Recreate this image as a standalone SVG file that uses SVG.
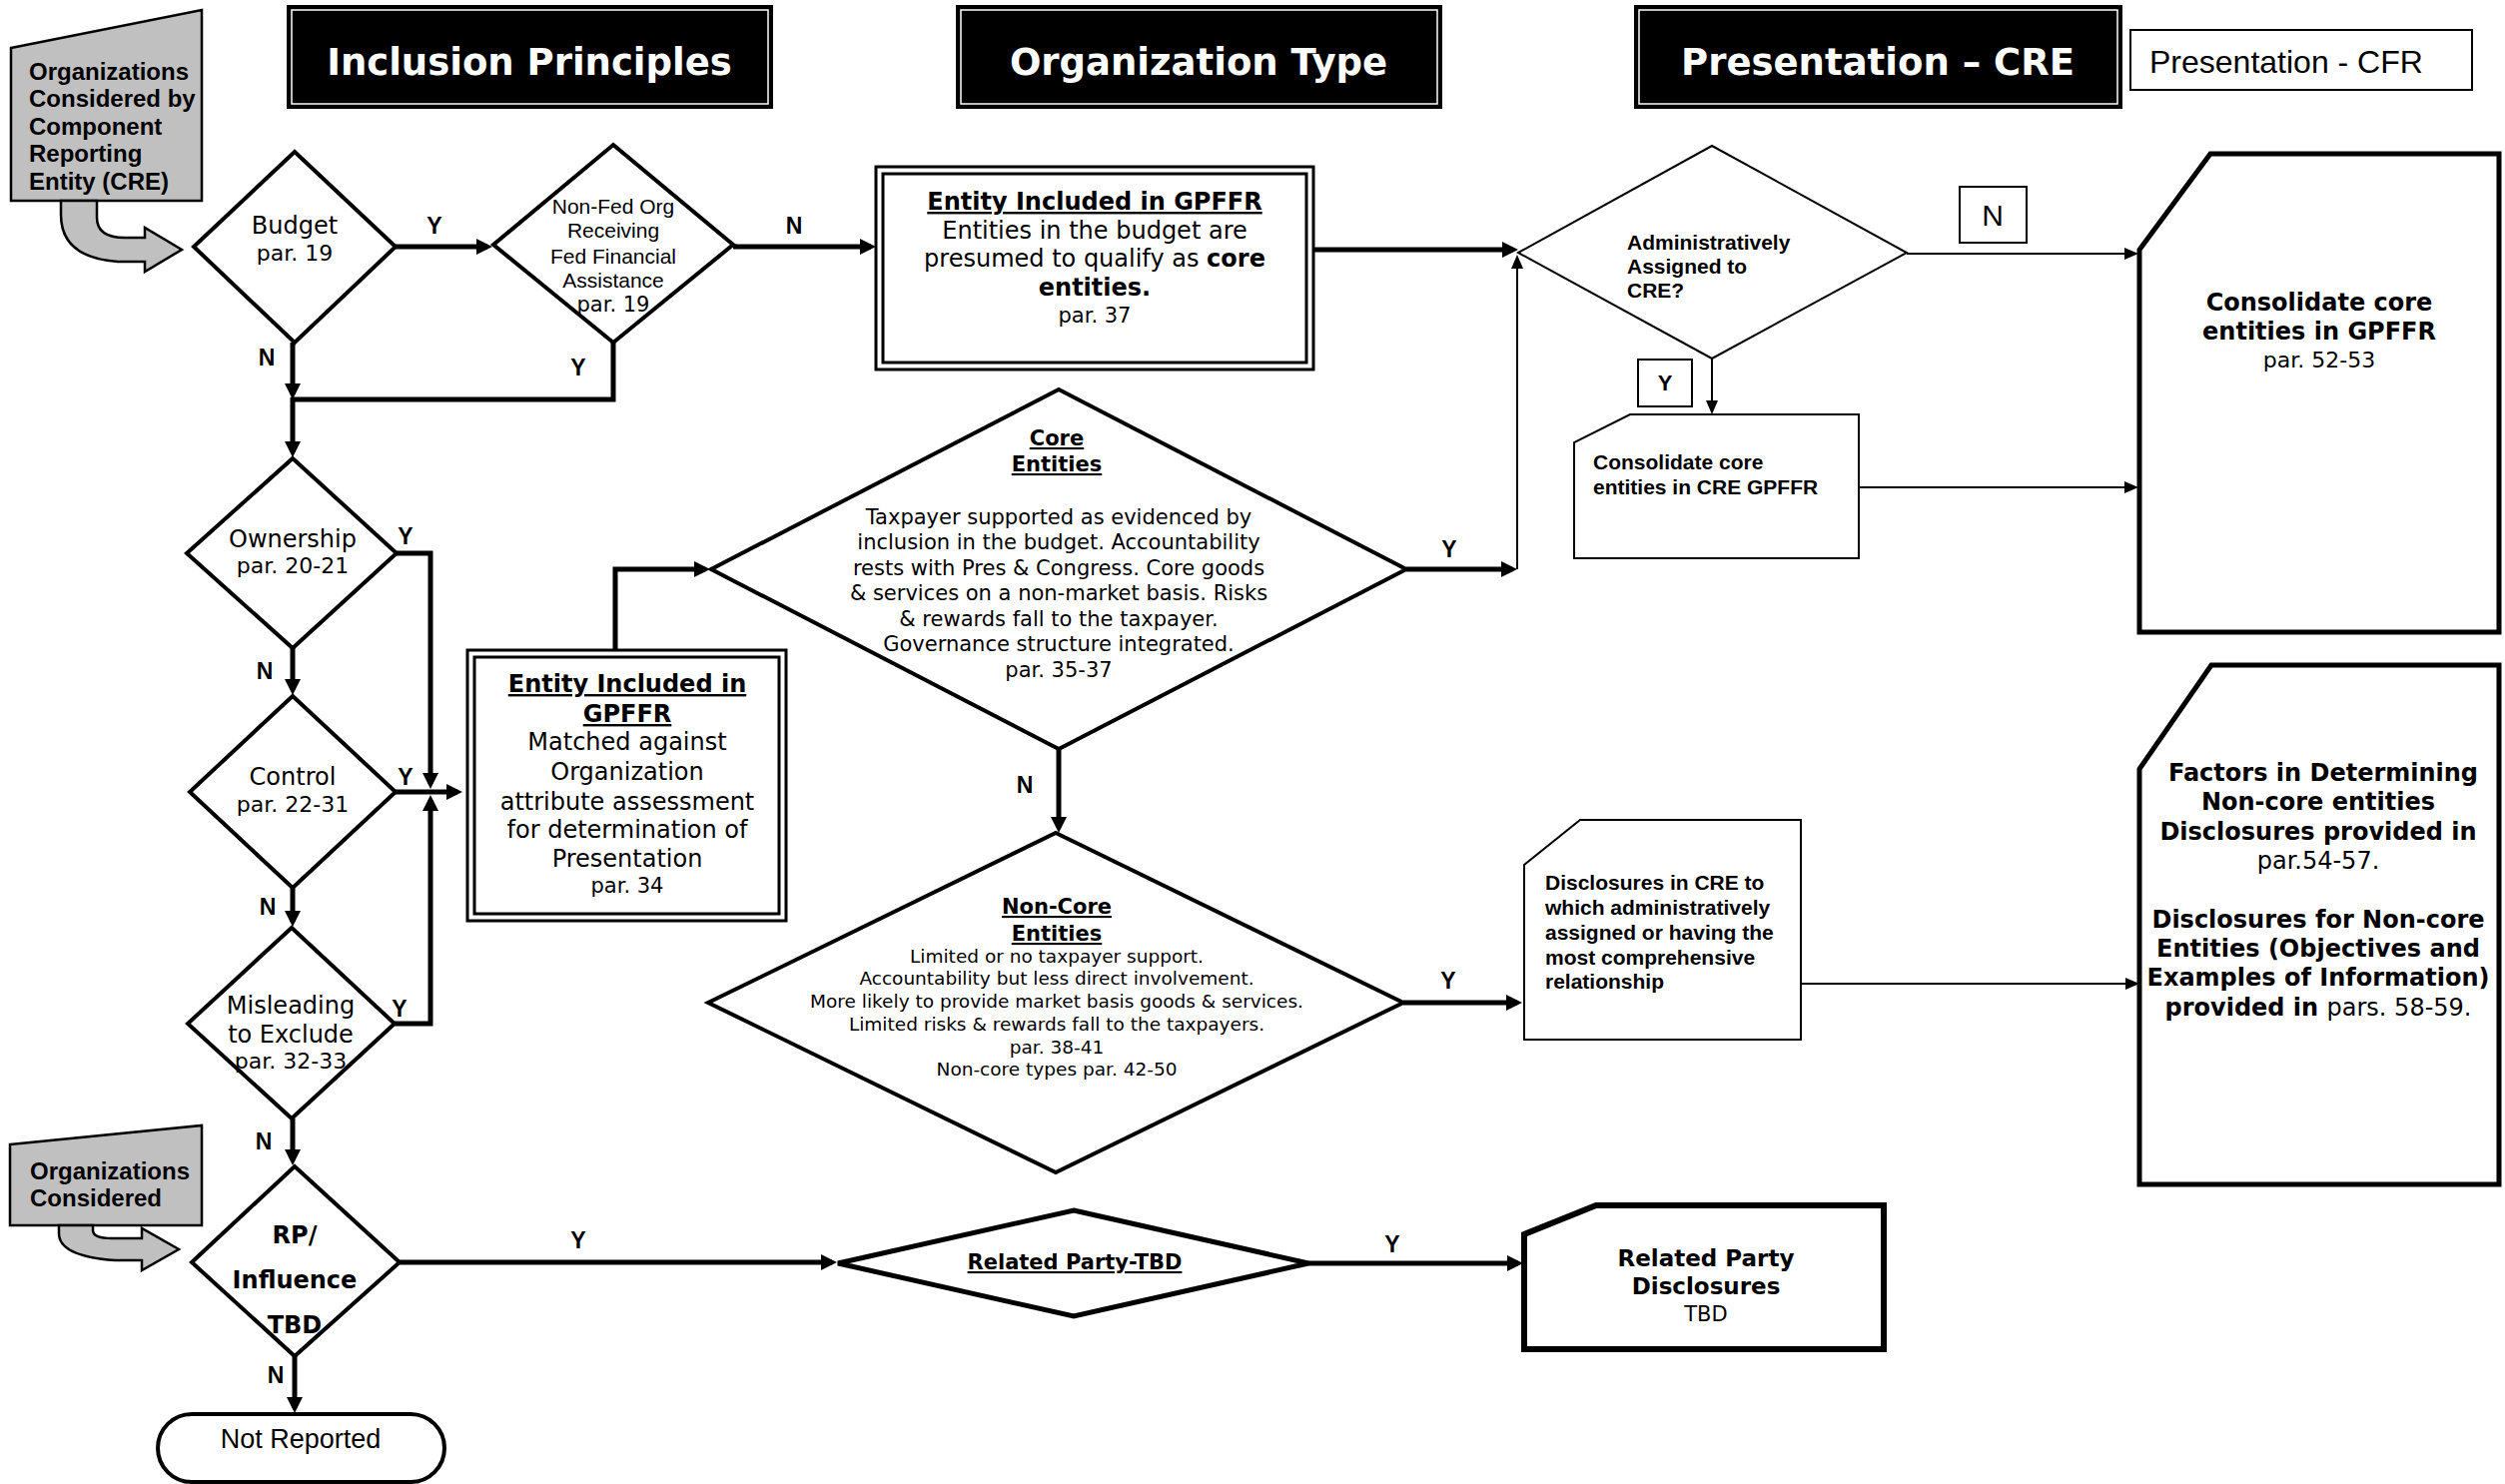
<svg xmlns="http://www.w3.org/2000/svg" width="2508" height="1486" viewBox="0 0 2508 1486">
<defs>
<marker id="ah" markerUnits="userSpaceOnUse" markerWidth="16" markerHeight="16" refX="11" refY="8" orient="auto"><path d="M0,0 L16,8 L0,16 Z" fill="#000"/></marker>
<marker id="as" markerUnits="userSpaceOnUse" markerWidth="14" markerHeight="12" refX="12" refY="6" orient="auto"><path d="M0,0 L14,6 L0,12 Z" fill="#000"/></marker>
</defs>
<style>
.v{font-family:"DejaVu Sans",Verdana,sans-serif;text-anchor:middle}
.ar{font-family:"Liberation Sans",Arial,sans-serif}
.b{font-weight:bold}
.u{text-decoration:underline}
.dia{fill:#fff;stroke:#000;stroke-width:4;stroke-linejoin:miter}
.thin{fill:#fff;stroke:#000;stroke-width:2}
.thick{fill:#fff;stroke:#000;stroke-width:5}
.gray{fill:#c0c0c0;stroke:#000;stroke-width:2.5}
.hdr{fill:#000;stroke:#000;stroke-width:2}
.hin{fill:none;stroke:#fff;stroke-width:1.5}
.ht{font-family:"DejaVu Sans",Verdana,sans-serif;font-weight:bold;font-size:37px;fill:#fff;text-anchor:middle}
.lbl{font-family:"Liberation Sans",Arial,sans-serif;font-weight:bold;font-size:23px;text-anchor:middle}
.ck{fill:none;stroke:#000;stroke-width:5;marker-end:url(#ah)}
.cn{fill:none;stroke:#000;stroke-width:5}
.cs{fill:none;stroke:#000;stroke-width:2;marker-end:url(#as)}
</style>
<rect width="2508" height="1486" fill="#fff"/>

<g id="hdr-inclusion">
<rect class="hdr" x="288" y="6" width="485" height="102"/>
<rect class="hin" x="292" y="10" width="477" height="94"/>
<text class="ht" x="530" y="75">Inclusion Principles</text>
</g>
<g id="hdr-orgtype">
<rect class="hdr" x="958" y="6" width="485" height="102"/>
<rect class="hin" x="962" y="10" width="477" height="94"/>
<text class="ht" x="1200" y="75">Organization Type</text>
</g>
<g id="hdr-pres-cre">
<rect class="hdr" x="1637" y="6" width="487" height="102"/>
<rect class="hin" x="1641" y="10" width="479" height="94"/>
<text class="ht" x="1880" y="75">Presentation – CRE</text>
</g>
<g id="hdr-pres-cfr">
<rect x="2133" y="30" width="342" height="60" fill="#fff" stroke="#000" stroke-width="2"/>
<text class="ar" x="2152" y="73" font-size="32">Presentation - CFR</text>
</g>

<g id="connectors">
<path class="ck" d="M396,247 H488"/>
<path class="ck" d="M734,247 H872"/>
<path class="ck" d="M293,343 V395"/>
<path class="cn" d="M614,341 V400 H291"/>
<path class="ck" d="M293,398 V453"/>
<path class="ck" d="M397,554 H431 V785"/>
<path class="ck" d="M396,793 H458"/>
<path class="ck" d="M395,1025 H431 V801"/>
<path class="ck" d="M293,649 V691"/>
<path class="ck" d="M293,889 V923"/>
<path class="ck" d="M293,1120 V1162"/>
<path class="ck" d="M295,1358 V1410"/>
<path class="ck" d="M400,1264 H833"/>
<path class="ck" d="M1310,1265 H1520"/>
<path class="ck" d="M1315,250 H1515"/>
<path class="ck" d="M616,651 V570 H706"/>
<path class="ck" d="M1408,570 H1514"/>
<path class="ck" d="M1060,750 V829"/>
<path class="ck" d="M1405,1004 H1519"/>
<path class="cs" d="M1519,570 V257"/>
<path class="cs" d="M1909,254 H2139"/>
<path class="cs" d="M1714,359 V413"/>
<path class="cs" d="M1861,488 H2139"/>
<path class="cs" d="M1803,985 H2140"/>
<text class="lbl" x="435" y="234">Y</text>
<text class="lbl" x="795" y="234">N</text>
<text class="lbl" x="267" y="366">N</text>
<text class="lbl" x="579" y="376">Y</text>
<text class="lbl" x="406" y="545">Y</text>
<text class="lbl" x="265" y="680">N</text>
<text class="lbl" x="406" y="786">Y</text>
<text class="lbl" x="268" y="916">N</text>
<text class="lbl" x="400" y="1018">Y</text>
<text class="lbl" x="264" y="1151">N</text>
<text class="lbl" x="579" y="1250">Y</text>
<text class="lbl" x="276" y="1385">N</text>
<text class="lbl" x="1394" y="1254">Y</text>
<text class="lbl" x="1451" y="558">Y</text>
<text class="lbl" x="1026" y="794">N</text>
<text class="lbl" x="1450" y="990">Y</text>
<rect x="1962" y="187" width="67" height="56" fill="#fff" stroke="#000" stroke-width="2"/>
<text class="ar" x="1995" y="226" font-size="30" text-anchor="middle">N</text>
<rect x="1640" y="360" width="54" height="47" fill="#fff" stroke="#000" stroke-width="2"/>
<text class="ar b" x="1667" y="391" font-size="22" text-anchor="middle">Y</text>
</g>

<g id="orgs-cre">
<path class="gray" d="M11,48 L202,10 V201 H11 Z"/>
<path class="gray" d="M61,201 L97,201 L97,218 Q97,238 125,238 L145,238 L145,228 L182,250 L145,272 L145,262 L118,262 Q61,258 61,215 Z"/>
<text class="ar b" font-size="24"><tspan x="29" y="80">Organizations</tspan><tspan x="29" y="107">Considered by</tspan><tspan x="29" y="135">Component</tspan><tspan x="29" y="162">Reporting</tspan><tspan x="29" y="190">Entity (CRE)</tspan></text>
</g>

<g id="budget">
<polygon class="dia" points="295,152 396,247 295,343 194,247"/>
<text class="v" x="295" y="234" font-size="24">Budget</text>
<text class="v" x="295" y="261" font-size="22">par. 19</text>
</g>

<g id="nonfed">
<polygon class="dia" points="614,145 734,245 614,343 494,245"/>
<text class="ar" font-size="21" text-anchor="middle"><tspan x="614" y="214">Non-Fed Org</tspan><tspan x="614" y="238">Receiving</tspan><tspan x="614" y="264">Fed Financial</tspan><tspan x="614" y="288">Assistance</tspan></text>
<text class="v" x="614" y="312" font-size="21">par. 19</text>
</g>

<g id="entity-included-1">
<rect x="877" y="167" width="438" height="203" fill="#fff" stroke="#000" stroke-width="3"/>
<rect x="884" y="174" width="424" height="189" fill="none" stroke="#000" stroke-width="3"/>
<text class="v b u" x="1096" y="210" font-size="24">Entity Included in GPFFR</text>
<text class="v" x="1096" y="239" font-size="24">Entities in the budget are</text>
<text class="v" x="1096" y="267" font-size="24">presumed to qualify as <tspan font-weight="bold">core</tspan></text>
<text class="v b" x="1096" y="296" font-size="24">entities.</text>
<text class="v" x="1096" y="323" font-size="21">par. 37</text>
</g>

<g id="admin-assigned">
<polygon points="1714,146 1909,253 1714,359 1520,253" fill="#fff" stroke="#000" stroke-width="2"/>
<text class="ar b" font-size="21"><tspan x="1629" y="250">Administratively</tspan><tspan x="1629" y="274">Assigned to</tspan><tspan x="1629" y="298">CRE?</tspan></text>
</g>

<g id="consolidate-cre">
<path class="thin" d="M1632,415 H1861 V559 H1576 V443 Z"/>
<text class="ar b" font-size="21"><tspan x="1595" y="470">Consolidate core</tspan><tspan x="1595" y="495">entities in CRE GPFFR</tspan></text>
</g>

<g id="consolidate-gpffr">
<path class="thick" d="M2213,154 H2502 V633 H2142 V250 Z"/>
<text class="v b" x="2322" y="311" font-size="24">Consolidate core</text>
<text class="v b" x="2322" y="340" font-size="24">entities in GPFFR</text>
<text class="v" x="2322" y="368" font-size="22">par. 52-53</text>
</g>

<g id="ownership">
<polygon class="dia" points="293,459 397,554 293,649 187,554"/>
<text class="v" x="293" y="548" font-size="24">Ownership</text>
<text class="v" x="293" y="574" font-size="22">par. 20-21</text>
</g>

<g id="control">
<polygon class="dia" points="293,697 396,793 293,889 190,793"/>
<text class="v" x="293" y="786" font-size="24">Control</text>
<text class="v" x="293" y="813" font-size="22">par. 22-31</text>
</g>

<g id="misleading">
<polygon class="dia" points="292,929 395,1025 292,1120 188,1025"/>
<text class="v" x="291" y="1015" font-size="24">Misleading</text>
<text class="v" x="291" y="1044" font-size="24">to Exclude</text>
<text class="v" x="291" y="1070" font-size="22">par. 32-33</text>
</g>

<g id="entity-included-2">
<rect x="468" y="651" width="319" height="271" fill="#fff" stroke="#000" stroke-width="3"/>
<rect x="475" y="658" width="305" height="257" fill="none" stroke="#000" stroke-width="3"/>
<text class="v b u" x="628" y="693" font-size="24">Entity Included in</text>
<text class="v b u" x="628" y="723" font-size="24">GPFFR</text>
<text class="v" font-size="24"><tspan x="628" y="751">Matched against</tspan><tspan x="628" y="781">Organization</tspan><tspan x="628" y="811">attribute assessment</tspan><tspan x="628" y="839">for determination of</tspan><tspan x="628" y="868">Presentation</tspan></text>
<text class="v" x="628" y="894" font-size="21">par. 34</text>
</g>

<g id="core-entities">
<polygon class="dia" points="1060,390 1408,570 1060,750 712,570"/>
<text class="v b u" x="1058" y="446" font-size="21">Core</text>
<text class="v b u" x="1058" y="472" font-size="21">Entities</text>
<text class="v" font-size="21"><tspan x="1060" y="525">Taxpayer supported as evidenced by</tspan><tspan x="1060" y="550">inclusion in the budget. Accountability</tspan><tspan x="1060" y="576">rests with Pres &amp; Congress. Core goods</tspan><tspan x="1060" y="601">&amp; services on a non-market basis. Risks</tspan><tspan x="1060" y="627">&amp; rewards fall to the taxpayer.</tspan><tspan x="1060" y="652">Governance structure integrated.</tspan><tspan x="1060" y="678">par. 35-37</tspan></text>
</g>

<g id="noncore-entities">
<polygon class="dia" points="1057,834 1405,1004 1057,1174 709,1004"/>
<text class="v b u" x="1058" y="915" font-size="21">Non-Core</text>
<text class="v b u" x="1058" y="942" font-size="21">Entities</text>
<text class="v" font-size="18.5"><tspan x="1058" y="964">Limited or no taxpayer support.</tspan><tspan x="1058" y="986">Accountability but less direct involvement.</tspan><tspan x="1058" y="1009">More likely to provide market basis goods &amp; services.</tspan><tspan x="1058" y="1032">Limited risks &amp; rewards fall to the taxpayers.</tspan><tspan x="1058" y="1055">par. 38-41</tspan><tspan x="1058" y="1077">Non-core types par. 42-50</tspan></text>
</g>

<g id="disclosures-cre">
<path class="thin" d="M1582,821 H1803 V1041 H1526 V866 Z" stroke-width="2.5"/>
<text class="ar b" font-size="21"><tspan x="1547" y="891">Disclosures in CRE to</tspan><tspan x="1547" y="916">which administratively</tspan><tspan x="1547" y="941">assigned or having the</tspan><tspan x="1547" y="966">most comprehensive</tspan><tspan x="1547" y="990">relationship</tspan></text>
</g>

<g id="noncore-factors">
<path class="thick" d="M2214,666 H2502 V1186 H2142 V770 Z"/>
<text class="v b" font-size="24"><tspan x="2326" y="782">Factors in Determining</tspan><tspan x="2321" y="811">Non-core entities</tspan><tspan x="2321" y="841">Disclosures provided in</tspan></text>
<text class="v" x="2321" y="870" font-size="24">par.54-57.</text>
<text class="v b" font-size="24"><tspan x="2321" y="929">Disclosures for Non-core</tspan><tspan x="2321" y="958">Entities (Objectives and</tspan><tspan x="2321" y="987">Examples of Information)</tspan><tspan x="2321" y="1017">provided in <tspan font-weight="normal">pars. 58-59.</tspan></tspan></text>
</g>

<g id="orgs-considered">
<path class="gray" d="M10,1146 L202,1127 V1227 H10 Z"/>
<path class="gray" d="M59,1227 L93,1227 L93,1232 Q93,1240 112,1240 L142,1240 L142,1230 L179,1251 L142,1272 L142,1262 L115,1262 Q59,1258 59,1235 Z"/>
<text class="ar b" font-size="24"><tspan x="30" y="1181">Organizations</tspan><tspan x="30" y="1208">Considered</tspan></text>
</g>

<g id="rp-influence">
<polygon class="dia" points="295,1168 400,1264 295,1358 192,1264"/>
<text class="v b" x="295" y="1245" font-size="24">RP/</text>
<text class="v b" x="295" y="1290" font-size="24">Influence</text>
<text class="v b" x="295" y="1335" font-size="24">TBD</text>
</g>

<g id="related-party">
<polygon points="1075,1212 1310,1265 1075,1318 839,1265" fill="#fff" stroke="#000" stroke-width="5"/>
<text class="v b u" x="1076" y="1271" font-size="21">Related Party-TBD</text>
</g>

<g id="related-party-disclosures">
<path d="M1598,1207 H1886 V1351 H1526 V1236 Z" fill="#fff" stroke="#000" stroke-width="6"/>
<text class="v b" x="1708" y="1268" font-size="23">Related Party</text>
<text class="v b" x="1708" y="1296" font-size="23">Disclosures</text>
<text class="v" x="1708" y="1323" font-size="21">TBD</text>
</g>

<g id="not-reported">
<rect x="158" y="1416" width="287" height="68" rx="34" ry="34" fill="#fff" stroke="#000" stroke-width="4"/>
<text class="ar" x="301" y="1450" font-size="27" text-anchor="middle">Not Reported</text>
</g>
</svg>
